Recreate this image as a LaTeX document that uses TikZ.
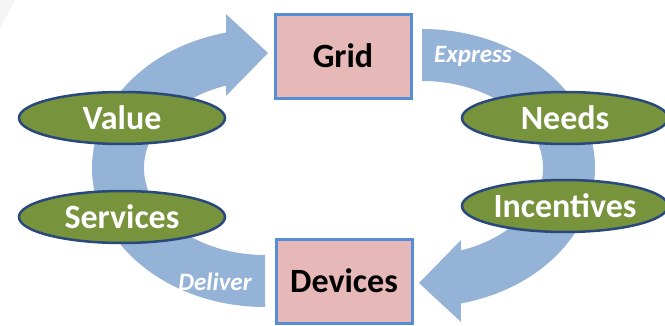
\documentclass[tikz,border=0pt]{standalone}
\usepackage{fontspec}
\setmainfont{Carlito}
\usetikzlibrary{shapes.geometric, calc}
\newcommand{\ringX}{265}
\newcommand{\ringY}{157}
\newcommand{\outerA}{173}
\newcommand{\outerB}{139}
\newcommand{\innerA}{121}
\newcommand{\innerB}{87}
\newcommand{\outerCut}{103}
\newcommand{\innerCut}{108.8}
\newcommand{\labelSize}{34}
\newcommand{\verbSize}{25}
\definecolor{arrowBlue}{RGB}{149,179,215}
\definecolor{boxPink}{RGB}{230,185,184}
\definecolor{boxBlue}{RGB}{85,142,213}
\definecolor{ovalGreen}{RGB}{119,147,60}
\definecolor{ovalBlue}{RGB}{41,73,125}
\tikzstyle{cycleArrow}=[fill=arrowBlue, draw=none]
\tikzstyle{box}=[draw=boxBlue, fill=boxPink, line width=3pt, minimum width=136pt, minimum height=84pt, inner sep=0, font=\bfseries\fontsize{\labelSize}{\labelSize}\selectfont]
\tikzstyle{oval}=[ellipse, draw=ovalBlue, fill=ovalGreen, line width=2.5pt, minimum width=206pt, minimum height=52pt, inner sep=0, text=white, font=\bfseries\fontsize{\labelSize}{\labelSize}\selectfont]
\tikzstyle{verb}=[text=white, inner sep=0, font=\bfseries\itshape\fontsize{\verbSize}{\verbSize}\selectfont]

\begin{document}
\begin{tikzpicture}[x=1pt, y=1pt]

% Frame
\useasboundingbox (0,0) rectangle (665,325);
\fill[gray!8] (0,325) -- (15,325) -- (0,297) -- cycle;

% Left arrow (Deliver -> Grid)
\draw[cycleArrow] (\ringX, \ringY-\outerB)
  arc[start angle=270, end angle=\outerCut, x radius=\outerA, y radius=\outerB]
  -- (226,311) -- (268,272) -- (226,229)
  -- ($(\ringX,\ringY)+(\innerCut:\innerA pt and \innerB pt)$)
  arc[start angle=\innerCut, end angle=270, x radius=\innerA, y radius=\innerB]
  -- cycle;

% Right arrow (Express -> Devices), same shape turned round
\begin{scope}[rotate around={180:(343.5,\ringY)}]
\draw[cycleArrow] (\ringX, \ringY-\outerB)
  arc[start angle=270, end angle=\outerCut, x radius=\outerA, y radius=\outerB]
  -- (226,311) -- (268,272) -- (226,229)
  -- ($(\ringX,\ringY)+(\innerCut:\innerA pt and \innerB pt)$)
  arc[start angle=\innerCut, end angle=270, x radius=\innerA, y radius=\innerB]
  -- cycle;
\end{scope}

% Verbs
\node[verb] (express) at (473,269) {Express};
\node[verb] (deliver) at (215,43) {Deliver};

% Ovals
\node[oval] (value) at (122,207) {Value};
\node[oval] (services) at (122,108) {Services};
\node[oval] (needs) at (565,207) {Needs};
\node[oval] (incentives) at (565,119) {Incentives};

% Boxes
\node[box] (grid) at (343,269) {Grid};
\node[box] (devices) at (344,44) {Devices};

\end{tikzpicture}
\end{document}
